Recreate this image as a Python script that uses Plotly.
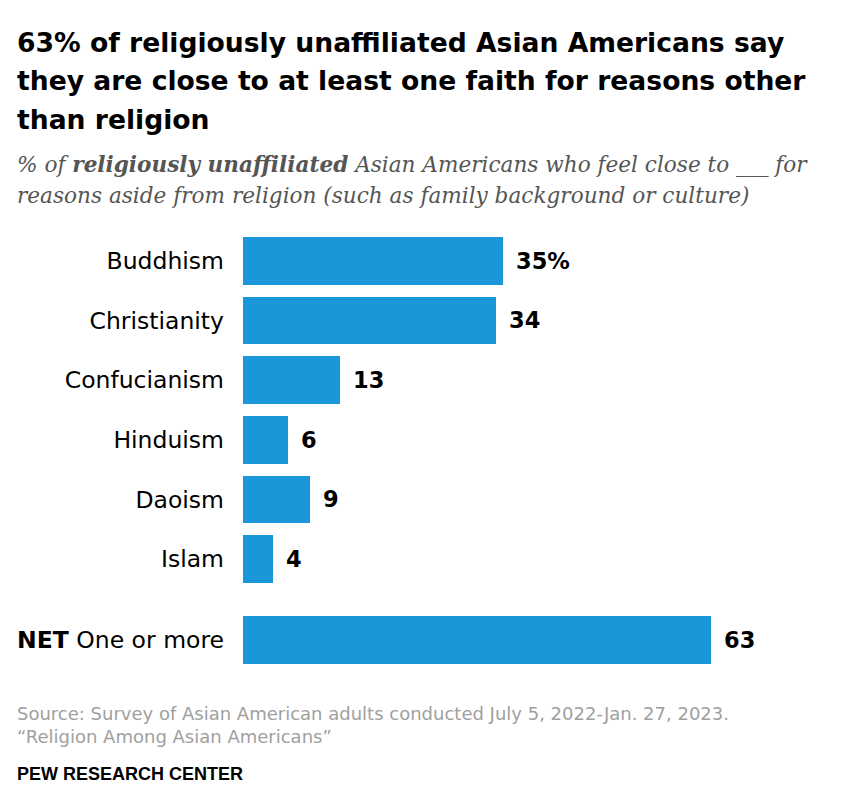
import plotly.graph_objects as go

categories = ["Buddhism", "Christianity", "Confucianism", "Hinduism", "Daoism", "Islam", "<b>NET</b> One or more"]
values = [35, 34, 13, 6, 9, 4, 63]
value_labels = ["35%", "34", "13", "6", "9", "4", "63"]

title_lines = [
    "63% of religiously unaffiliated Asian Americans say",
    "they are close to at least one faith for reasons other",
    "than religion",
]
subtitle_lines = [
    "% of <b>religiously unaffiliated</b> Asian Americans who feel close to ___ for",
    "reasons aside from religion (such as family background or culture)",
]
source_lines = [
    "Source: Survey of Asian American adults conducted July 5, 2022-Jan. 27, 2023.",
    "\u201cReligion Among Asian Americans\u201d",
]
credit = "PEW RESEARCH CENTER"

W_PX, H_PX = 850, 812
OFF = 8  # page body margin
L = 243 - OFF
T = 231 - OFF
X_MAX = 70
PLOT_W = 520
R = W_PX - L - PLOT_W
B = H_PX - (670 - OFF)
plot_h = H_PX - T - B

ypos = [0, 1, 2, 3, 4, 5, 6.36]
bar_color = "#1b96d9"
SANS = "DejaVu Sans, Verdana, sans-serif"

fig = go.Figure()
fig.add_trace(go.Bar(
    x=values, y=ypos, orientation="h",
    marker=dict(color=bar_color, line=dict(width=0)),
    width=0.8, hoverinfo="skip",
))

def px_x(px):
    return (px - OFF - L) / PLOT_W

def px_y(py):
    return (H_PX - B - (py - OFF)) / plot_h

annotations = []
for v, yv, lab in zip(values, ypos, value_labels):
    annotations.append(dict(
        x=v, y=yv, xref="x", yref="y", text=f"<b>{lab}</b>",
        showarrow=False, xanchor="left", yanchor="middle", xshift=11,
        font=dict(family=SANS, size=22.5, color="#000000"),
    ))

for i, line in enumerate(title_lines):
    annotations.append(dict(
        xref="paper", yref="paper", x=px_x(15), y=px_y(42 + 38.5 * i),
        xanchor="left", yanchor="middle", align="left", showarrow=False,
        text=f"<b>{line}</b>",
        font=dict(family=SANS, size=26.6, color="#000000"),
    ))
for i, line in enumerate(subtitle_lines):
    annotations.append(dict(
        xref="paper", yref="paper", x=px_x(15), y=px_y(164 + 31 * i),
        xanchor="left", yanchor="middle", align="left", showarrow=False,
        text=f"<i>{line}</i>",
        font=dict(family="DejaVu Serif, serif", size=21.6, color="#555555"),
    ))
for i, line in enumerate(source_lines):
    annotations.append(dict(
        xref="paper", yref="paper", x=px_x(15), y=px_y(713 + 23 * i),
        xanchor="left", yanchor="middle", align="left", showarrow=False,
        text=line,
        font=dict(family=SANS, size=18, color="#a0a0a0"),
    ))
annotations.append(dict(
    xref="paper", yref="paper", x=px_x(15), y=px_y(774),
    xanchor="left", yanchor="middle", align="left", showarrow=False,
    text=f"<b>{credit}</b>",
    font=dict(family="Liberation Sans, Arial, sans-serif", size=18, color="#000000"),
))

fig.update_layout(
    width=W_PX, height=H_PX,
    margin=dict(l=L, r=R, t=T, b=B, pad=0),
    paper_bgcolor="#ffffff", plot_bgcolor="#ffffff",
    showlegend=False,
    bargap=0,
    annotations=annotations,
    xaxis=dict(range=[0, X_MAX], visible=False, fixedrange=True, automargin=False),
    yaxis=dict(
        range=[6.86, -0.5], tickmode="array", tickvals=ypos, ticktext=categories,
        showgrid=False, zeroline=False, showline=False, ticks="",
        ticklabelstandoff=18, automargin=False,
        tickfont=dict(family=SANS, size=23.5, color="#000000"),
        fixedrange=True,
    ),
)

fig.write_html("out.html")
